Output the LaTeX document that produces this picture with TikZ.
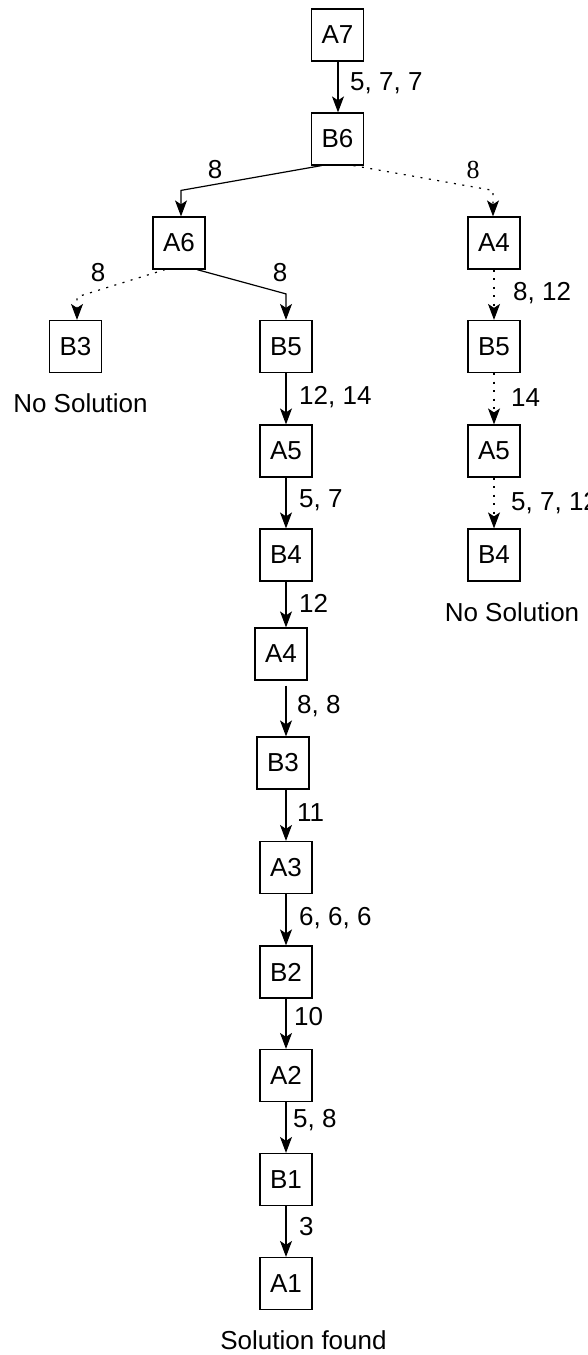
\documentclass[tikz,border=0pt]{standalone}
\usepackage{fontspec}
\setmainfont{Liberation Sans}
\newfontfamily\serifnum{Liberation Serif}
\usetikzlibrary{arrows.meta}
\newcommand{\fs}{\fontsize{26}{30}\selectfont}
\tikzset{
  box/.style={draw, line width=1.2pt, minimum width=52pt, minimum height=52pt, inner sep=0pt, font=\fs},
  conn/.style={-{Stealth[length=16pt,width=12pt,inset=4pt]}, line width=1.2pt},
  dotconn/.style={conn, dash pattern=on 2pt off 6.5pt},
  lab/.style={font=\fs, inner sep=0pt, anchor=west},
  clab/.style={font=\fs, inner sep=0pt},
}
\begin{document}
\begin{tikzpicture}[x=1pt,y=-1pt]
\useasboundingbox (0,0) rectangle (588,1355);
% nodes
\node[box] (A7) at (337.5,35) {A7};
\node[box] (B6) at (337.5,139) {B6};
\node[box] (A6) at (179,243) {A6};
\node[box] (A4r) at (494,243) {A4};
\node[box] (B3l) at (75.5,346.5) {B3};
\node[box] (B5) at (286,346.5) {B5};
\node[box] (A5) at (286,451) {A5};
\node[box] (B4) at (286,555) {B4};
\node[box] (A4m) at (281,654) {A4};
\node[box] (B3m) at (283,763) {B3};
\node[box] (A3) at (286,867.5) {A3};
\node[box] (B2) at (286,972) {B2};
\node[box] (A2) at (286,1075.5) {A2};
\node[box] (B1) at (286,1179.5) {B1};
\node[box] (A1) at (286,1283.5) {A1};
\node[box] (B5r) at (494,346.5) {B5};
\node[box] (A5r) at (494,451) {A5};
\node[box] (B4r) at (494,555) {B4};
% captions
\node[clab] (ns1) at (80.5,403) {No Solution};
\node[clab] (ns2) at (512,612) {No Solution};
\node[clab] (sf) at (303.5,1340) {Solution found};
% connectors
\draw[conn] (A7.south -| 338,0) -- (B6.north -| 338,0);
\draw[conn] ([xshift=-16pt]B6.south) -- ([xshift=2pt,yshift=26pt]A6.north) -- ([xshift=2pt]A6.north);
\draw[dotconn] ([xshift=16pt]B6.south) -- ([xshift=-1pt,yshift=26pt]A4r.north) -- ([xshift=-1pt]A4r.north);
\draw[dotconn] ([xshift=-14pt]A6.south) -- ([xshift=1.5pt,yshift=23pt]B3l.north) -- ([xshift=1.5pt]B3l.north);
\draw[conn] ([xshift=18pt]A6.south) -- ([yshift=26pt]B5.north) -- (B5.north);
\draw[conn] (B5) -- (A5);
\draw[conn] (A5) -- (B4);
\draw[conn] (B4.south) -- (B4.south |- A4m.north);
\draw[conn] ([yshift=-5pt]B4.south |- A4m.south) -- (B4.south |- B3m.north);
\draw[conn] (B4.south |- B3m.south) -- (A3.north);
\draw[conn] (A3) -- (B2);
\draw[conn] (B2) -- (A2);
\draw[conn] (A2) -- (B1);
\draw[conn] (B1) -- (A1);
\draw[dotconn] (A4r) -- (B5r);
\draw[dotconn] (B5r) -- (A5r);
\draw[dotconn] (A5r) -- (B4r);
% edge labels
\node[lab] (l1) at (350,83) {5, 7, 7};
\node[clab] (l2) at (215,170) {8};
\node[clab,font=\fs\serifnum] (l3) at (473,170) {8};
\node[clab] (l4) at (98,273) {8};
\node[clab] (l5) at (280,273) {8};
\node[lab] (l6) at (299,397) {12, 14};
\node[lab] (l7) at (299,500) {5, 7};
\node[lab] (l8) at (299,603) {12};
\node[lab] (l9) at (513,293) {8, 12};
\node[lab] (l10) at (511,398) {14};
\node[lab] (l11) at (511,503) {5, 7, 12};
\node[lab] (l12) at (297,706) {8, 8};
\node[lab] (l13) at (297,813) {11};
\node[lab] (l14) at (299,918) {6, 6, 6};
\node[lab] (l15) at (294,1017) {10};
\node[lab] (l16) at (293,1120) {5, 8};
\node[lab] (l17) at (299,1227) {3};
\end{tikzpicture}
\end{document}
